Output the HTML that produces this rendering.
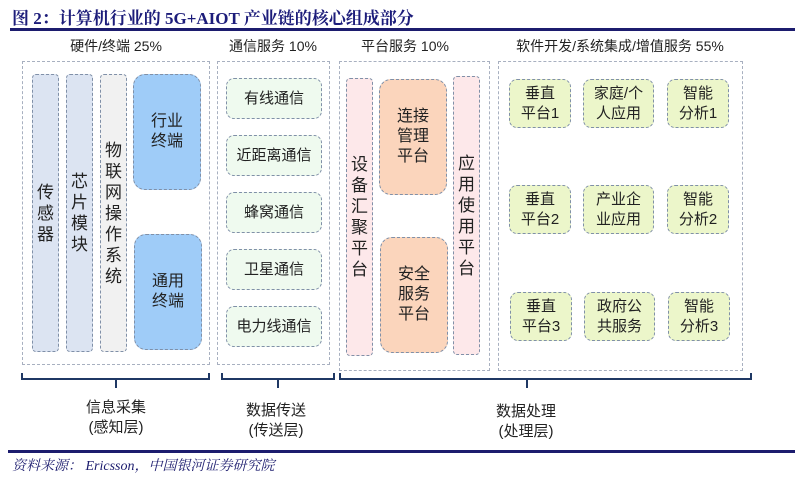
<!DOCTYPE html>
<html><head><meta charset="utf-8"><style>
body{margin:0;width:803px;height:480px;background:#fff;position:relative;overflow:hidden;font-family:"Liberation Sans","Noto Sans CJK SC",sans-serif;color:#222}
.a{position:absolute}
.g{position:absolute;border:1px dashed #a8b0c0;box-sizing:border-box}
.b{position:absolute;border:1px dashed #8090a8;box-sizing:border-box;display:flex;align-items:center;justify-content:center;text-align:center;font-size:16px;line-height:20px}
.h{position:absolute;font-size:14px;text-align:center;width:260px;top:36px}
.v{width:1em;word-break:break-all;line-height:21px;font-size:17px}
.br{position:absolute;border:2px solid #1f3864;border-top:none;height:5px;top:373px}
.tk{position:absolute;width:1.5px;background:#1f3864;top:378px;height:10px}
.lb{position:absolute;width:120px;text-align:center;font-size:15px;line-height:20px}
.s{font-size:15px}
</style></head><body>
<div class="a" style="left:12px;top:4px;font-family:'Liberation Serif','Noto Serif CJK SC',serif;font-weight:bold;font-size:17px;color:#1c1c7a">图 2：计算机行业的 5G+AIOT 产业链的核心组成部分</div>
<div class="a" style="left:10px;top:28px;width:785px;height:3px;background:#1c1c6e"></div>

<div class="h" style="left:-14px">硬件/终端 25%</div>
<div class="h" style="left:143px">通信服务 10%</div>
<div class="h" style="left:275px">平台服务 10%</div>
<div class="h" style="left:490px">软件开发/系统集成/增值服务 55%</div>

<div class="g" style="left:22px;top:61px;width:188px;height:304px"></div>
<div class="g" style="left:217px;top:61px;width:113px;height:304px"></div>
<div class="g" style="left:339px;top:61px;width:151px;height:310px"></div>
<div class="g" style="left:498px;top:61px;width:245px;height:310px"></div>

<div class="b" style="left:32px;top:74px;width:27px;height:278px;background:#dce4f2;border-radius:4px"><span class="v">传感器</span></div>
<div class="b" style="left:66px;top:74px;width:27px;height:278px;background:#dce4f2;border-radius:4px"><span class="v">芯片模块</span></div>
<div class="b" style="left:100px;top:74px;width:27px;height:278px;background:#f1f1f1;border-radius:4px"><span class="v">物联网操作系统</span></div>
<div class="b" style="left:133px;top:74px;width:68px;height:116px;background:#9fccf8;border-radius:12px">行业<br>终端</div>
<div class="b" style="left:134px;top:234px;width:68px;height:116px;background:#9fccf8;border-radius:12px">通用<br>终端</div>

<div class="b s" style="left:226px;top:78px;width:96px;height:41px;background:#effaef;border-radius:8px">有线通信</div>
<div class="b s" style="left:226px;top:135px;width:96px;height:41px;background:#effaef;border-radius:8px">近距离通信</div>
<div class="b s" style="left:226px;top:192px;width:96px;height:41px;background:#effaef;border-radius:8px">蜂窝通信</div>
<div class="b s" style="left:226px;top:249px;width:96px;height:41px;background:#effaef;border-radius:8px">卫星通信</div>
<div class="b s" style="left:226px;top:306px;width:96px;height:41px;background:#effaef;border-radius:8px">电力线通信</div>

<div class="b" style="left:346px;top:78px;width:27px;height:278px;background:#fde8ea;border-radius:4px"><span class="v">设备汇聚平台</span></div>
<div class="b" style="left:379px;top:79px;width:68px;height:116px;background:#fbd5bc;border-radius:12px">连接<br>管理<br>平台</div>
<div class="b" style="left:380px;top:237px;width:68px;height:116px;background:#fbd5bc;border-radius:12px">安全<br>服务<br>平台</div>
<div class="b" style="left:453px;top:76px;width:27px;height:279px;background:#fde8ea;border-radius:4px"><span class="v">应用使用平台</span></div>

<div class="b s" style="left:509px;top:79px;width:62px;height:49px;background:#ecf6ca;border-radius:8px">垂直<br>平台1</div>
<div class="b s" style="left:583px;top:79px;width:71px;height:49px;background:#ecf6ca;border-radius:8px">家庭/个<br>人应用</div>
<div class="b s" style="left:667px;top:79px;width:62px;height:49px;background:#ecf6ca;border-radius:8px">智能<br>分析1</div>
<div class="b s" style="left:509px;top:185px;width:62px;height:49px;background:#ecf6ca;border-radius:8px">垂直<br>平台2</div>
<div class="b s" style="left:583px;top:185px;width:71px;height:49px;background:#ecf6ca;border-radius:8px">产业企<br>业应用</div>
<div class="b s" style="left:667px;top:185px;width:62px;height:49px;background:#ecf6ca;border-radius:8px">智能<br>分析2</div>
<div class="b s" style="left:510px;top:292px;width:62px;height:49px;background:#ecf6ca;border-radius:8px">垂直<br>平台3</div>
<div class="b s" style="left:584px;top:292px;width:71px;height:49px;background:#ecf6ca;border-radius:8px">政府公<br>共服务</div>
<div class="b s" style="left:668px;top:292px;width:62px;height:49px;background:#ecf6ca;border-radius:8px">智能<br>分析3</div>

<div class="br" style="left:21px;width:185px"></div>
<div class="br" style="left:221px;width:110px"></div>
<div class="br" style="left:339px;width:409px"></div>
<div class="tk" style="left:115px"></div>
<div class="tk" style="left:277px"></div>
<div class="tk" style="left:526px"></div>

<div class="lb" style="left:56px;top:398px">信息采集<br>(感知层)</div>
<div class="lb" style="left:216px;top:401px">数据传送<br>(传送层)</div>
<div class="lb" style="left:466px;top:402px">数据处理<br>(处理层)</div>

<div class="a" style="left:8px;top:450px;width:787px;height:3px;background:#1c1c6e"></div>
<div class="a" style="left:12px;top:455px;font-family:'Liberation Serif','Noto Serif CJK SC',serif;font-style:italic;font-size:14px;color:#1c1c6e">资料来源：  Ericsson，中国银河证券研究院</div>
</body></html>
